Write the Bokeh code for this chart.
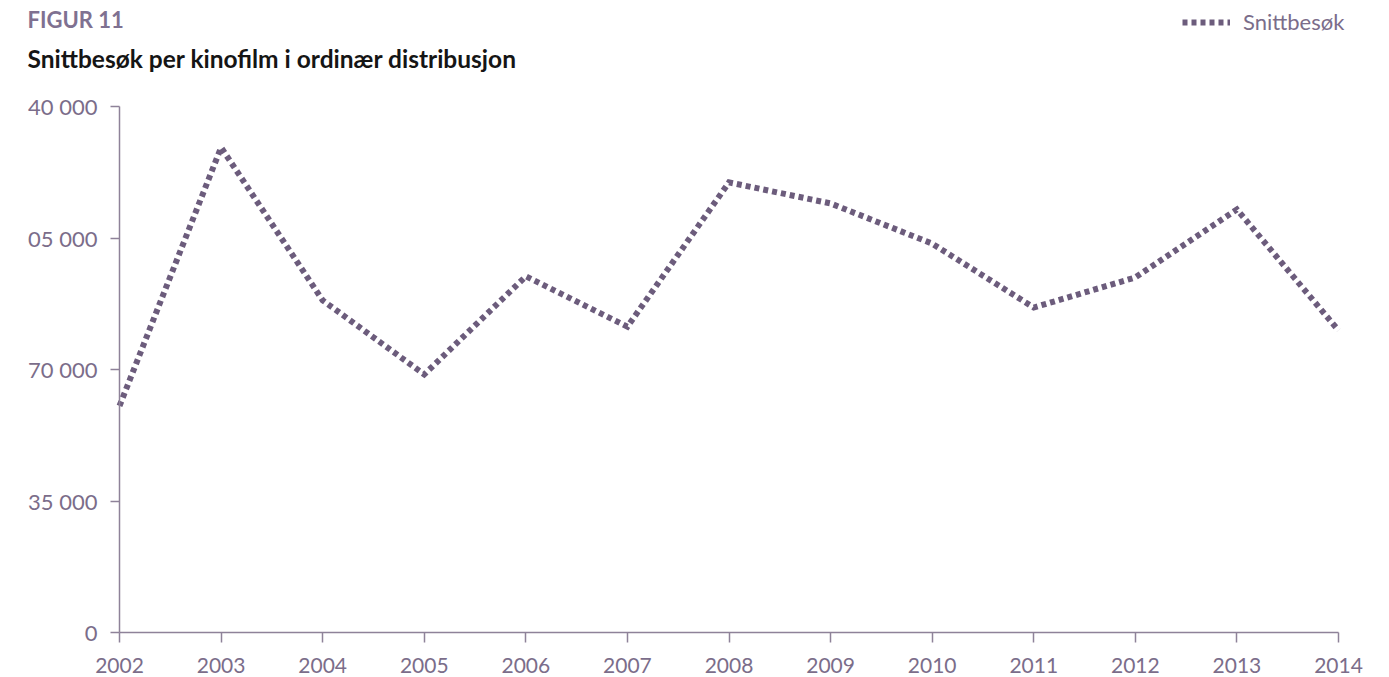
from bokeh.plotting import figure
from bokeh.models import Range1d, FixedTicker, Label, Legend, LegendItem, LinearAxis
from bokeh.embed import file_html
from bokeh.resources import INLINE

# ---- data ----
years = [2002, 2003, 2004, 2005, 2006, 2007, 2008, 2009, 2010, 2011, 2012, 2013, 2014]
snittbesok = [60300, 129100, 88400, 68700, 94800, 81400, 119800, 114200, 103500,
              86500, 94500, 112600, 80400]
y_ticks = [0, 35000, 70000, 105000, 140000]
y_tick_labels = ["0", "35 000", "70 000", "105 000", "140 000"]
x_tick_labels = [str(y) for y in years]
title_text = "FIGUR 11"
subtitle_text = "Snittbesøk per kinofilm i ordinær distribusjon"
series_name = "Snittbesøk"

# ---- style / layout (pixels in canvas coordinates) ----
FONT = "Lato"
LINE_COLOR = "#6c5c7c"
AXIS_COLOR = "#8e8299"
TEXT_COLOR = "#7b6d8a"
TITLE_COLOR = "#7f7191"

W, H = 1389, 677
CLIP_LEFT = 27                 # frame starts here (texts left of it are cut)
AX_X0, AX_X1 = 119, 1338       # where first / last year sit
AX_Y_TOP, AX_Y_BOT = 106, 632  # where y max / 0 sit

px_per_year = (AX_X1 - AX_X0) / (years[-1] - years[0])
x_start = years[0] - (AX_X0 - CLIP_LEFT) / px_per_year
x_end = years[-1] + (W - AX_X1) / px_per_year
units_per_px = (y_ticks[-1] - y_ticks[0]) / (AX_Y_BOT - AX_Y_TOP)
y_end = y_ticks[-1] + AX_Y_TOP * units_per_px
y_start = y_ticks[0] - (H - AX_Y_BOT) * units_per_px

p = figure(width=W, height=H, output_backend="svg", toolbar_location=None,
           title=None, x_axis_type=None, y_axis_type=None,
           x_range=Range1d(x_start, x_end), y_range=Range1d(y_start, y_end),
           min_border_left=CLIP_LEFT, min_border_right=0, min_border_top=0,
           min_border_bottom=0)
p.outline_line_color = None
p.background_fill_color = "white"
p.border_fill_color = "white"

xa = LinearAxis(fixed_location=y_ticks[0], bounds=(years[0], years[-1]),
                ticker=FixedTicker(ticks=years),
                major_label_overrides={y: s for y, s in zip(years, x_tick_labels)})
xa.axis_line_color = AXIS_COLOR
xa.axis_line_width = 1.5
xa.major_tick_line_color = AXIS_COLOR
xa.major_tick_line_width = 1.5
xa.major_tick_out = 10
xa.major_tick_in = 0
xa.minor_tick_line_color = None
xa.major_label_standoff = 15
xa.major_label_text_font = FONT
xa.major_label_text_font_size = "21px"
xa.major_label_text_color = TEXT_COLOR
p.add_layout(xa, "below")

ya = LinearAxis(fixed_location=years[0], bounds=(y_ticks[0], y_ticks[-1]),
                ticker=FixedTicker(ticks=y_ticks),
                major_label_overrides={t: s for t, s in zip(y_ticks, y_tick_labels)})
ya.axis_line_color = AXIS_COLOR
ya.axis_line_width = 1.5
ya.major_tick_line_color = AXIS_COLOR
ya.major_tick_line_width = 1.5
ya.major_tick_out = 9
ya.major_tick_in = 0
ya.minor_tick_line_color = None
ya.major_label_standoff = 13
ya.major_label_text_font = FONT
ya.major_label_text_font_size = "22px"
ya.major_label_text_color = TEXT_COLOR
p.add_layout(ya, "left")

r = p.line(years, snittbesok, line_color=LINE_COLOR, line_width=6,
           line_dash="5 4", line_join="miter")

# titles (screen units, relative to the frame's bottom-left corner)
p.add_layout(Label(x=0, y=H - 19, x_units="screen", y_units="screen", text=title_text,
                   text_font=FONT, text_font_size="22px", text_font_style="bold",
                   text_color=TITLE_COLOR, text_baseline="alphabetic"))
p.add_layout(Label(x=0, y=H - 58, x_units="screen", y_units="screen", text=subtitle_text,
                   text_font=FONT, text_font_size="24.5px", text_font_style="bold",
                   text_color="#151515", text_baseline="alphabetic"))

# legend
legend = Legend(items=[LegendItem(label=series_name, renderers=[r])],
                location=(1182 - CLIP_LEFT, H - 35), orientation="horizontal",
                glyph_width=48, glyph_height=20, label_standoff=13,
                label_text_font=FONT, label_text_font_size="22px",
                label_text_color=TEXT_COLOR, padding=0, margin=0,
                border_line_alpha=0, background_fill_alpha=0)
p.add_layout(legend)

open("out.html", "w").write(file_html(p, INLINE))
